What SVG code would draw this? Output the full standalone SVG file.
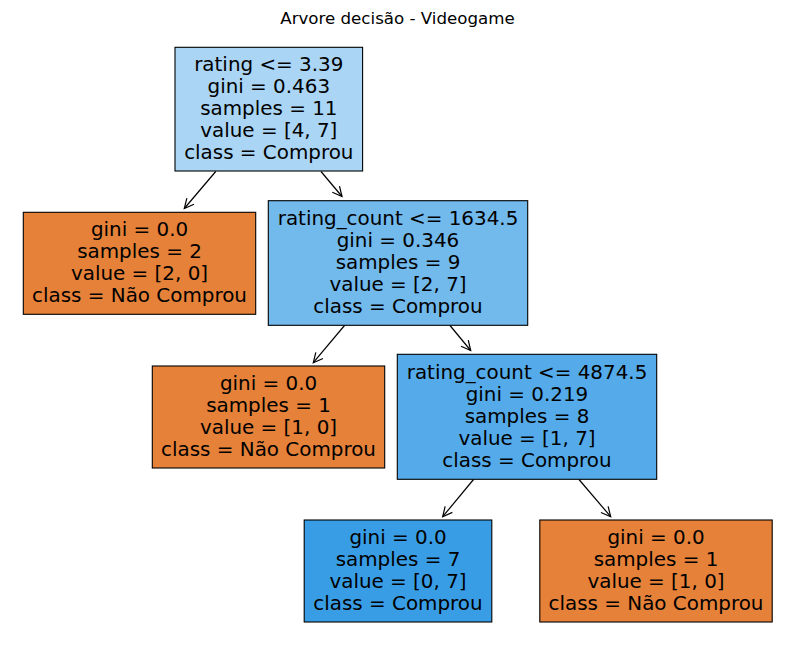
<svg xmlns="http://www.w3.org/2000/svg" width="794" height="658" viewBox="0 0 794 658">
<style>
.t{font-family:"DejaVu Sans",Verdana,sans-serif;font-size:19.9px;fill:#000;text-anchor:middle}
.ti{font-family:"DejaVu Sans",Verdana,sans-serif;font-size:16.67px;fill:#000;text-anchor:middle}
rect{stroke:#000;stroke-width:1.1}
.e{stroke:#000;stroke-width:1.2;fill:none}
.or{fill:#e58139}
.bl{fill:#399de5}
</style>
<defs>
<marker id="ah" markerUnits="userSpaceOnUse" markerWidth="14" markerHeight="14" viewBox="-11 -7 14 14" refX="0" refY="0" orient="auto">
<path d="M-9.5,-4.7 L0,0 L-9.5,4.7" fill="none" stroke="#000" stroke-width="1.2"/>
</marker>
</defs>
<rect width="794" height="658" fill="#fff" style="stroke:none"/>
<text class="ti" x="397.5" y="24">Arvore decisão - Videogame</text>
<g id="edges">
<line class="e" x1="215.7" y1="171.5" x2="184.3" y2="208.5" marker-end="url(#ah)"/>
<line class="e" x1="321" y1="171.5" x2="342" y2="196.5" marker-end="url(#ah)"/>
<line class="e" x1="344.5" y1="325.5" x2="313.3" y2="362.7" marker-end="url(#ah)"/>
<line class="e" x1="450" y1="325.5" x2="470.7" y2="350.5" marker-end="url(#ah)"/>
<line class="e" x1="473.5" y1="479.5" x2="442.7" y2="516.7" marker-end="url(#ah)"/>
<line class="e" x1="579" y1="479.5" x2="610.7" y2="516.7" marker-end="url(#ah)"/>
</g>
<g id="n0">
<rect x="175" y="47.3" width="187.6" height="123.7" fill="#aad5f4"/>
<text class="t" x="268.8" y="71">rating &lt;= 3.39</text>
<text class="t" x="268.8" y="93">gini = 0.463</text>
<text class="t" x="268.8" y="115">samples = 11</text>
<text class="t" x="268.8" y="137">value = [4, 7]</text>
<text class="t" x="268.8" y="159">class = Comprou</text>
</g>
<g id="n1">
<rect class="or" x="23.3" y="212.3" width="232.4" height="102"/>
<text class="t" x="139.5" y="236.3">gini = 0.0</text>
<text class="t" x="139.5" y="258.3">samples = 2</text>
<text class="t" x="139.5" y="280.3">value = [2, 0]</text>
<text class="t" x="139.5" y="302.3">class = Não Comprou</text>
</g>
<g id="n2">
<rect x="268.3" y="200.7" width="259.4" height="124.6" fill="#72b9ec"/>
<text class="t" x="398" y="225">rating_count &lt;= 1634.5</text>
<text class="t" x="398" y="247">gini = 0.346</text>
<text class="t" x="398" y="269">samples = 9</text>
<text class="t" x="398" y="291">value = [2, 7]</text>
<text class="t" x="398" y="313">class = Comprou</text>
</g>
<g id="n3">
<rect class="or" x="152.3" y="366" width="232.4" height="102"/>
<text class="t" x="268.5" y="390">gini = 0.0</text>
<text class="t" x="268.5" y="412">samples = 1</text>
<text class="t" x="268.5" y="434">value = [1, 0]</text>
<text class="t" x="268.5" y="456">class = Não Comprou</text>
</g>
<g id="n4">
<rect x="397.3" y="354.3" width="259.4" height="125" fill="#55abe9"/>
<text class="t" x="527" y="378.8">rating_count &lt;= 4874.5</text>
<text class="t" x="527" y="400.8">gini = 0.219</text>
<text class="t" x="527" y="422.8">samples = 8</text>
<text class="t" x="527" y="444.8">value = [1, 7]</text>
<text class="t" x="527" y="466.8">class = Comprou</text>
</g>
<g id="n5">
<rect class="bl" x="304.2" y="520" width="187.6" height="102"/>
<text class="t" x="398" y="544">gini = 0.0</text>
<text class="t" x="398" y="566">samples = 7</text>
<text class="t" x="398" y="588">value = [0, 7]</text>
<text class="t" x="398" y="610">class = Comprou</text>
</g>
<g id="n6">
<rect class="or" x="539.8" y="520" width="232.4" height="102"/>
<text class="t" x="656" y="544">gini = 0.0</text>
<text class="t" x="656" y="566">samples = 1</text>
<text class="t" x="656" y="588">value = [1, 0]</text>
<text class="t" x="656" y="610">class = Não Comprou</text>
</g>
</svg>
